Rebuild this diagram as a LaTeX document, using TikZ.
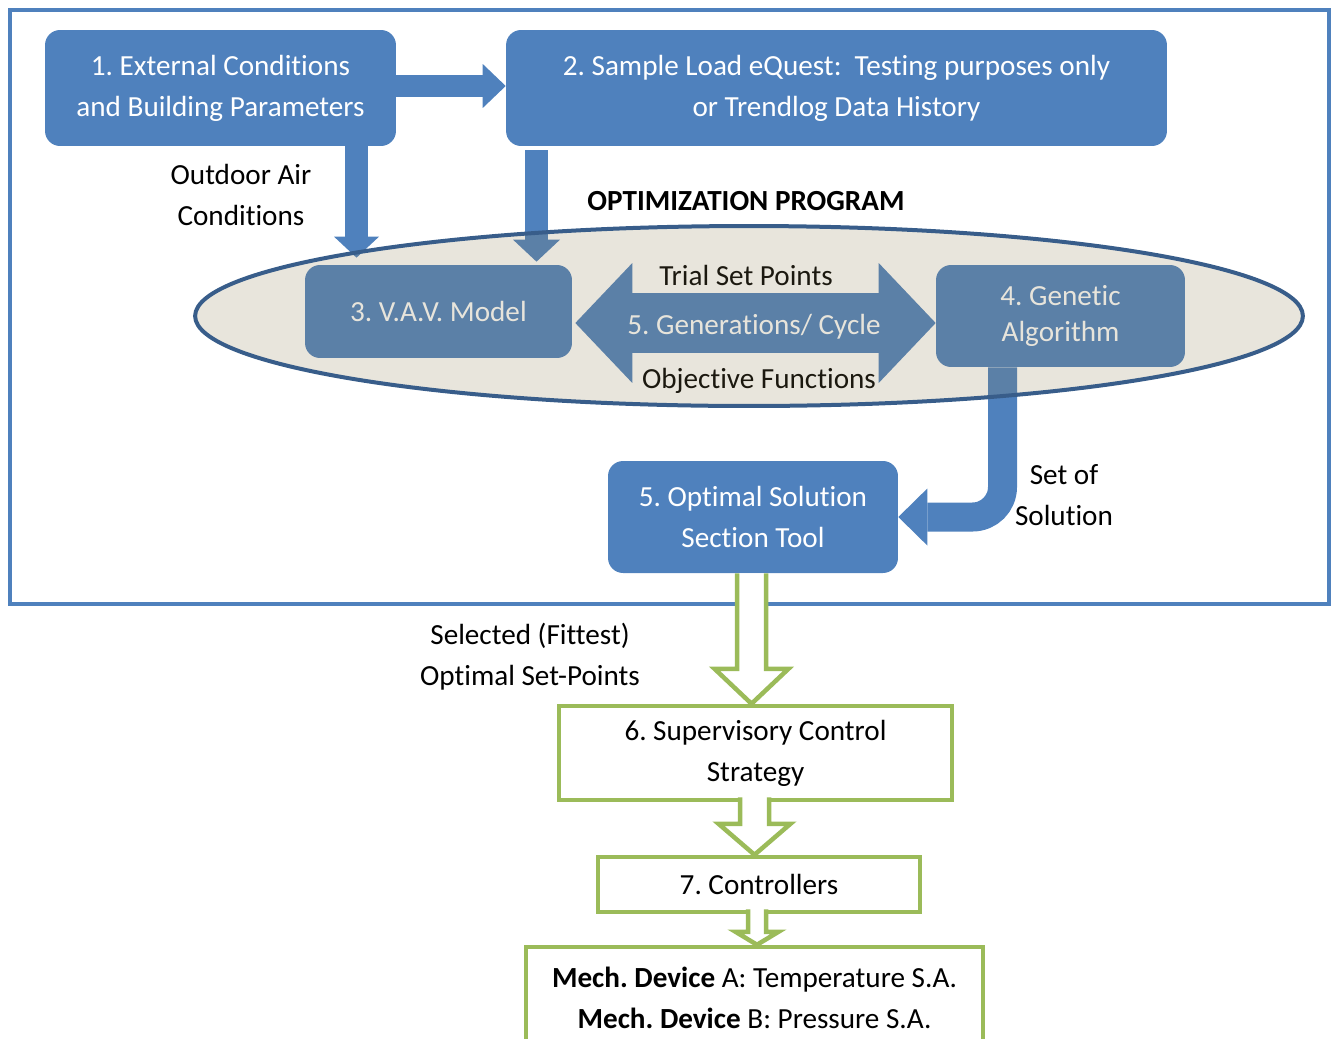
\documentclass[tikz,border=0pt]{standalone}
\usepackage{fontspec}
\setmainfont[Ligatures=NoCommon]{Carlito}
\usetikzlibrary{arrows.meta,calc}
\frenchspacing

\definecolor{boxblue}{RGB}{79,129,189}
\definecolor{rimblue}{RGB}{56,93,138}
\definecolor{progtint}{RGB}{139,124,79}
\definecolor{boxgreen}{RGB}{155,187,89}

% hollow green arrow: start, end, x, shaft half width, head half width, head length
\newcommand{\hollowdown}[6]{%
  \coordinate (hs) at (#1);
  \coordinate (ht) at (#2);
  \draw[greenline,fill=white]
    ($(hs -| #3,0)+(-#4,0)$) -- ($(ht -| #3,0)+(-#4,-#6)$) -- ($(ht -| #3,0)+(-#5,-#6)$)
    -- (ht -| #3,0) -- ($(ht -| #3,0)+(#5,-#6)$) -- ($(ht -| #3,0)+(#4,-#6)$)
    -- ($(hs -| #3,0)+(#4,0)$);
}

\begin{document}
\begin{tikzpicture}[x=0.02cm,y=-0.02cm,
  font=\fontsize{16.6}{23.3}\selectfont,
  bluebox/.style={rectangle,rounded corners=0.3cm,fill=boxblue,text=white,align=center,inner sep=0pt},
  greenbox/.style={rectangle,draw=boxgreen,line width=0.09cm,fill=white,align=center,inner sep=0pt},
  lbl/.style={align=center,inner sep=0pt},
  greenline/.style={draw=boxgreen,line width=0.09cm},
  frameline/.style={draw=boxblue,line width=0.08cm}]

\useasboundingbox (0,0) rectangle (1331,1038);

\draw[frameline] (10,10) rectangle (1329,604);

% blue boxes
\node[bluebox,minimum width=7.02cm,minimum height=2.32cm] (ext) at (220.5,88)
	{1. External Conditions\\and Building Parameters};
\node[bluebox,minimum width=13.22cm,minimum height=2.32cm] (load) at (836.5,88)
	{2. Sample Load eQuest:~ Testing purposes only\\or Trendlog Data History};
\node[bluebox,minimum width=5.34cm,minimum height=1.86cm] (vav) at (438.5,311.5)
	{3. V.A.V. Model};
\node[bluebox,minimum width=4.98cm,minimum height=2.04cm] (gen) at (1060.5,316)
	{4. Genetic\\[-0.1cm]Algorithm};
\node[bluebox,minimum width=5.8cm,minimum height=2.24cm] (sol) at (753,517)
	{5. Optimal Solution\\Section Tool};

% blue arrows
\draw[boxblue,line width=0.44cm,-{Triangle[width=0.88cm,length=0.46cm,line width=0pt]}]
	(ext.east |- 0,86) -- (load.west |- 0,86);
\draw[boxblue,line width=0.46cm,shorten >=0.14cm,-{Triangle[width=0.9cm,length=0.42cm,line width=0pt]}]
	(ext.south -| 356.5,0) -- (vav.north -| 356.5,0);
\draw[boxblue,line width=0.46cm,shorten <=0.08cm,shorten >=0.06cm,-{Triangle[width=0.94cm,length=0.44cm,line width=0pt]}]
	(load.south -| 536.5,0) -- (vav.north -| 536.5,0);
\draw[boxblue,line width=1.2cm,shorten <=0.06cm,
	{Triangle[width=2.4cm,length=1.14cm,line width=0pt]}-{Triangle[width=2.4cm,length=1.14cm,line width=0pt]}]
	(vav.east |- 0,323) -- (gen.west |- 0,323);
\draw[boxblue,line width=0.58cm,rounded corners=0.6cm,-{Triangle[width=1.14cm,length=0.58cm,line width=0pt]}]
	(gen.south -| 1002.5,0) |- (sol.east);

% labels
\node[lbl] (outdoor) at (241,195) {Outdoor Air\\Conditions};
\node[lbl,font=\fontsize{16.6}{23.3}\selectfont\bfseries] (prog) at (746,201) {OPTIMIZATION PROGRAM};
\node[lbl] (trial) at (746,275) {Trial Set Points};
\node[lbl,text=white] (cycle) at (754,327) {5. Generations/ Cycle};
\node[lbl] (objf) at (759,381) {Objective Functions};
\node[lbl] (setof) at (1064,495.5) {Set of\\Solution};

% optimization program
\fill[progtint,opacity=0.2] (749,316) ellipse [x radius=11.08cm,y radius=1.8cm];
\draw[rimblue,line width=0.08cm] (749,316) ellipse [x radius=11.08cm,y radius=1.8cm];

% green boxes
\node[greenbox,minimum width=7.86cm,minimum height=1.88cm] (sup) at (755.5,753)
	{6. Supervisory Control\\Strategy};
\node[greenbox,minimum width=6.44cm,minimum height=1.1cm] (ctrl) at (759,884.5)
	{7. Controllers};
\node[greenbox,minimum width=9.14cm,minimum height=2.04cm] (dev) at (754.5,998)
	{\textbf{Mech. Device} A: Temperature S.A.\\\textbf{Mech. Device} B: Pressure S.A.};

\node[lbl] (fittest) at (530,656.5) {Selected (Fittest)\\Optimal Set-Points};

% green arrows
\hollowdown{sol.south}{sup.north}{751.5}{14.5}{37}{35}
\hollowdown{$(sup.south)+(0,-5)$}{ctrl.north}{754.5}{14.5}{36}{31}
\hollowdown{$(ctrl.south)+(0,-5)$}{dev.north}{757}{9}{21.5}{13}

\end{tikzpicture}
\end{document}
